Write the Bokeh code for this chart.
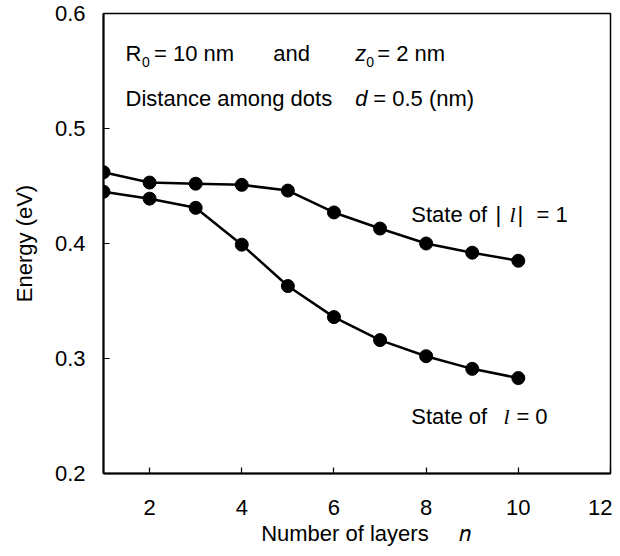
import math
from bokeh.plotting import figure
from bokeh.models import Label, FixedTicker, Range1d
from bokeh.embed import file_html
from bokeh.resources import INLINE

# ---- data ----
layers = [1, 2, 3, 4, 5, 6, 7, 8, 9, 10]
energy_l1 = [0.462, 0.453, 0.452, 0.451, 0.446, 0.427, 0.413, 0.400, 0.392, 0.385]
energy_l0 = [0.445, 0.439, 0.431, 0.399, 0.363, 0.336, 0.316, 0.302, 0.291, 0.283]
x_ticks = [2, 4, 6, 8, 10, 12]
y_ticks = [0.2, 0.3, 0.4, 0.5, 0.6]
y_tick_labels = ["0.2", "0.3", "0.4", "0.5", "0.6"]
x_title = "Number of layers"
x_symbol = "\U0001D45B"   # mathematical italic small n
y_title = "Energy (eV)"

SANS = "Liberation Sans"
SERIF = "Liberation Serif"
F = 22
FS = f"{F}px"
SUB = "14px"

W, H = 612, 548
BL, BR, BT, BB = 103, 2, 13, 74

p = figure(width=W, height=H, output_backend="svg", toolbar_location=None,
           x_range=Range1d(1, 12), y_range=Range1d(0.2, 0.6),
           min_border_left=BL, min_border_right=BR, min_border_top=BT, min_border_bottom=BB)
p.grid.visible = False
p.background_fill_color = "white"
p.border_fill_color = "white"
p.outline_line_color = "black"
p.outline_line_width = 1.5

for ax in (p.xaxis[0], p.yaxis[0]):
    ax.axis_line_width = 2
    ax.axis_line_color = "black"
    ax.major_tick_in = 6
    ax.major_tick_out = 0
    ax.major_tick_line_color = "black"
    ax.major_tick_line_width = 1.2
    ax.minor_tick_line_color = None
    ax.major_label_text_font = SANS
    ax.major_label_text_font_size = FS
    ax.major_label_text_color = "black"
    ax.axis_label_text_font = SANS
    ax.axis_label_text_font_size = FS
    ax.axis_label_text_font_style = "normal"
    ax.axis_label_text_color = "black"

p.xaxis[0].ticker = FixedTicker(ticks=x_ticks)
p.xaxis[0].major_label_standoff = 26
NB = "\u00a0"
p.xaxis[0].axis_label = NB * 3 + x_title + NB * 5 + x_symbol
p.xaxis[0].axis_label_standoff = 3

p.yaxis[0].ticker = FixedTicker(ticks=y_ticks)
p.yaxis[0].major_label_overrides = {t: s for t, s in zip(y_ticks, y_tick_labels)}
p.yaxis[0].major_label_standoff = 18
p.yaxis[0].axis_label = y_title
p.yaxis[0].axis_label_standoff = 15

for ys in (energy_l1, energy_l0):
    p.line(layers, ys, line_color="black", line_width=2.5)
    p.scatter(layers, ys, size=13, fill_color="black", line_color="black")

# screen px (image coords) -> data coords of the plot
X0, X1 = BL + 0.5, W - BR
Y0, Y1 = BT + 0.5, H - BB
def px2x(px):
    return 1 + (px - X0) / (X1 - X0) * 11

def py2y(py):
    return 0.2 + (Y1 - py) / (Y1 - Y0) * 0.4

def lab(text, px, py, font=SANS, style="normal", size=FS):
    p.add_layout(Label(x=px2x(px), y=py2y(py), text=text, text_font=font,
                       text_font_style=style, text_font_size=size, text_color="black",
                       text_align="left", text_baseline="middle"))

# line 1
lab("R", 125.5, 54)
lab("0", 142, 62, size=SUB)
lab("= 10 nm", 154, 54)
lab("and", 273, 54)
lab("z", 355, 54, style="italic")
lab("0", 366, 62, size=SUB)
lab("= 2 nm", 377, 54)
# line 2
lab("Distance among dots", 125.5, 99)
lab("d", 355, 99, style="italic")
lab("= 0.5 (nm)", 373, 99)
# series labels
lab("State of", 411, 215)
lab("|", 495, 215)
lab("l", 509, 215, font=SERIF, style="italic")
lab("|", 517, 215)
lab("= 1", 536, 215)
lab("State of", 411, 417)
lab("l", 503, 417, font=SERIF, style="italic")
lab("= 0", 516, 417)

open("out.html", "w").write(file_html(p, INLINE))
